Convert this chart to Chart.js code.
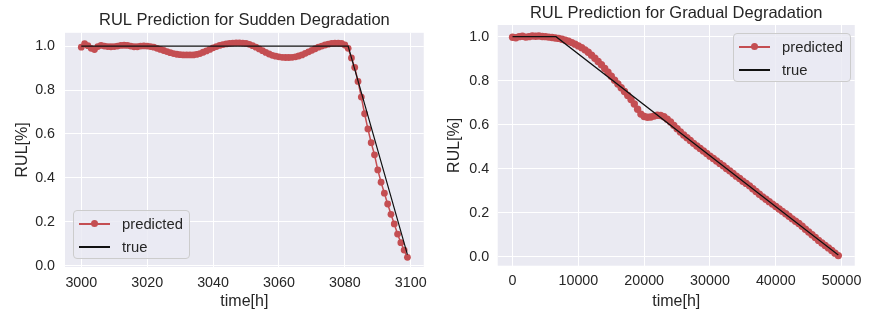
<!DOCTYPE html>
<html>
<head>
<meta charset="utf-8">
<script src="https://cdn.jsdelivr.net/npm/chart.js@4.4.1/dist/chart.umd.min.js"></script>
<style>
html,body{margin:0;padding:0;background:#fff;}
#wrap{position:relative;width:869px;height:314px;overflow:hidden;}
#wrap canvas{position:absolute;top:0;}
.legend{position:absolute;box-sizing:border-box;border:1px solid #CCCCCC;border-radius:4px;background:rgba(234,234,242,0.8);font-family:'Liberation Sans',Arial,sans-serif;font-size:14.8px;color:#262626;}
.legend .ln{position:absolute;height:1.5px;}
.legend .mk{position:absolute;width:7px;height:7px;border-radius:50%;}
.legend .tx{position:absolute;line-height:18px;white-space:nowrap;}
</style>
</head>
<body>
<div id="wrap">
  <canvas id="c1" width="434" height="314" style="left:0"></canvas>
  <canvas id="c2" width="435" height="314" style="left:434px"></canvas>
</div>
<script>
// ---------------- data ----------------
const suddenHours = [3000,3001,3002,3003,3004,3005,3006,3007,3008,3009,
  3010,3011,3012,3013,3014,3015,3016,3017,3018,3019,
  3020,3021,3022,3023,3024,3025,3026,3027,3028,3029,
  3030,3031,3032,3033,3034,3035,3036,3037,3038,3039,
  3040,3041,3042,3043,3044,3045,3046,3047,3048,3049,
  3050,3051,3052,3053,3054,3055,3056,3057,3058,3059,
  3060,3061,3062,3063,3064,3065,3066,3067,3068,3069,
  3070,3071,3072,3073,3074,3075,3076,3077,3078,3079,
  3080,3081,3082,3083,3084,3085,3086,3087,3088,3089,
  3090,3091,3092,3093,3094,3095,3096,3097,3098,3099];
const suddenPredicted = [0.995,1.011,1.002,0.990,0.984,0.998,1.003,1.000,0.998,0.997,
  0.998,1.000,1.003,1.004,1.003,1.000,0.997,0.997,1.000,1.001,
  1.000,0.998,0.995,0.990,0.985,0.980,0.975,0.970,0.966,0.963,
  0.961,0.960,0.960,0.960,0.960,0.962,0.966,0.972,0.978,0.985,
  0.992,0.998,1.003,1.007,1.010,1.012,1.014,1.015,1.015,1.014,
  1.012,1.008,1.002,0.995,0.987,0.979,0.971,0.964,0.958,0.954,
  0.951,0.949,0.948,0.948,0.949,0.951,0.955,0.960,0.967,0.974,
  0.981,0.988,0.995,1.000,1.005,1.009,1.012,1.013,1.013,1.012,
  1.005,0.990,0.946,0.903,0.839,0.768,0.692,0.623,0.560,0.505,
  0.436,0.380,0.330,0.281,0.234,0.190,0.144,0.105,0.071,0.038];
const suddenTrueHours = [3000, 3081, 3099];
const suddenTrueValues = [1.0, 1.0, 0.05];
const suddenXTicks = [3000, 3020, 3040, 3060, 3080, 3100];

const gradualHours = [0,500,1000,1500,2000,2500,3000,3500,4000,4500,
  5000,5500,6000,6500,7000,7500,8000,8500,9000,9500,
  10000,10500,11000,11500,12000,12500,13000,13500,14000,14500,
  15000,15500,16000,16500,17000,17500,18000,18500,19000,19500,
  20000,20500,21000,21500,22000,22500,23000,23500,24000,24500,
  25000,25500,26000,26500,27000,27500,28000,28500,29000,29500,
  30000,30500,31000,31500,32000,32500,33000,33500,34000,34500,
  35000,35500,36000,36500,37000,37500,38000,38500,39000,39500,
  40000,40500,41000,41500,42000,42500,43000,43500,44000,44500,
  45000,45500,46000,46500,47000,47500,48000,48500,49000,49500];
const gradualPredicted = [0.997,0.995,1.000,1.002,0.998,1.000,1.003,1.002,1.003,1.001,
  1.000,0.998,0.996,0.994,0.992,0.988,0.984,0.979,0.973,0.966,
  0.958,0.950,0.940,0.929,0.916,0.902,0.887,0.872,0.855,0.838,
  0.820,0.802,0.785,0.768,0.751,0.733,0.714,0.694,0.670,0.648,
  0.637,0.634,0.635,0.639,0.643,0.642,0.636,0.625,0.612,0.597,
  0.582,0.567,0.553,0.541,0.528,0.515,0.503,0.492,0.480,0.469,
  0.457,0.446,0.435,0.424,0.413,0.401,0.390,0.378,0.366,0.355,
  0.343,0.333,0.322,0.309,0.296,0.284,0.272,0.261,0.250,0.239,
  0.228,0.217,0.206,0.195,0.184,0.172,0.161,0.151,0.138,0.125,
  0.112,0.100,0.087,0.074,0.062,0.051,0.040,0.028,0.016,0.005];
const gradualTrueHours = [0, 6600, 49500];
const gradualTrueValues = [1.0, 1.0, 0.008];
const gradualXTicks = [0, 10000, 20000, 30000, 40000, 50000];

const rulTicks = [0.0, 0.2, 0.4, 0.6, 0.8, 1.0];
const legendLabels = ['predicted', 'true'];

// ---------------- style ----------------
const FONT = "'Liberation Sans', Arial, sans-serif";
const INK = '#262626';
const RED = '#C44E52';
const BLACK = '#111111';
const AXBG = '#EAEAF2';

const bgPlugin = {
  id: 'axbg',
  beforeDraw(chart) {
    const a = chart.chartArea, ctx = chart.ctx;
    ctx.save();
    ctx.fillStyle = AXBG;
    ctx.fillRect(a.left, a.top, a.right - a.left, a.bottom - a.top);
    ctx.restore();
  }
};

function pairs(xs, ys) { return xs.map((x, i) => ({x: x, y: ys[i]})); }

function build(id, c) {
  return new Chart(document.getElementById(id), {
    type: 'line',
    data: {
      datasets: [
        { label: legendLabels[0], data: pairs(c.hours, c.pred), borderColor: RED, backgroundColor: RED,
          borderWidth: 1.5, pointRadius: c.ptR, pointBorderWidth: 0, pointBackgroundColor: RED,
          tension: 0, order: 1, fill: false },
        { label: legendLabels[1], data: pairs(c.trueH, c.trueV), borderColor: BLACK, backgroundColor: BLACK,
          borderWidth: 1.2, pointRadius: 0, tension: 0, order: 0, fill: false }
      ]
    },
    options: {
      responsive: false, animation: false, devicePixelRatio: 1,
      events: [],
      layout: { padding: { left: 0, right: c.padRight, top: 0, bottom: 0 } },
      plugins: {
        legend: { display: false },
        tooltip: { enabled: false },
        title: { display: true, fullSize: false, align: 'center', text: c.title, color: INK,
          font: { family: FONT, size: 16.5, weight: 'normal', lineHeight: 1.2 },
          padding: { top: c.tTop, bottom: c.tBottom } }
      },
      scales: {
        x: {
          type: 'linear', min: c.xMin, max: c.xMax,
          afterBuildTicks: s => { s.ticks = c.xTicks.map(v => ({ value: v })); },
          afterFit: s => { s.height = c.xH; },
          ticks: { color: INK, font: { family: FONT, size: 14.3, lineHeight: 1.2 }, padding: 7,
            maxRotation: 0, autoSkip: false, callback: v => String(v) },
          grid: { color: '#FFFFFF', lineWidth: 1, drawTicks: false },
          border: { display: false },
          title: { display: true, text: 'time[h]', color: INK,
            font: { family: FONT, size: 16, lineHeight: 1.2 }, padding: { top: 0, bottom: 2.5 } }
        },
        y: {
          type: 'linear', min: c.yMin, max: c.yMax,
          afterBuildTicks: s => { s.ticks = rulTicks.map(v => ({ value: v })); },
          afterFit: s => { s.width = c.yW; },
          ticks: { color: INK, font: { family: FONT, size: 14.3, lineHeight: 1.2 }, padding: c.yPad,
            autoSkip: false, callback: v => Number(v).toFixed(1) },
          grid: { color: '#FFFFFF', lineWidth: 1, drawTicks: false },
          border: { display: false },
          title: { display: true, text: 'RUL[%]', color: INK,
            font: { family: FONT, size: 16, lineHeight: 1.2 }, padding: { top: c.yTitlePad, bottom: 0 } }
        }
      }
    },
    plugins: [bgPlugin]
  });
}

build('c1', {
  hours: suddenHours, pred: suddenPredicted, trueH: suddenTrueHours, trueV: suddenTrueValues,
  xTicks: suddenXTicks, title: 'RUL Prediction for Sudden Degradation',
  xMin: 2995.05, xMax: 3103.95, yMin: -0.006, yMax: 1.0606, ptR: 3.4,
  padRight: 8, tTop: 11, tBottom: 2, xH: 47, yW: 65, yPad: 10, yTitlePad: 12.5
});
build('c2', {
  hours: gradualHours, pred: gradualPredicted, trueH: gradualTrueHours, trueV: gradualTrueValues,
  xTicks: gradualXTicks, title: 'RUL Prediction for Gradual Degradation',
  xMin: -2260, xMax: 52000, yMin: -0.041, yMax: 1.053, ptR: 3.7,
  padRight: 10.7, tTop: 3.4, tBottom: 1.8, xH: 48.3, yW: 63.7, yPad: 8.5, yTitlePad: 11
});

// ---------------- legends (HTML text) ----------------
function legend(box) {
  const wrap = document.getElementById('wrap');
  const d = document.createElement('div');
  d.className = 'legend';
  d.style.left = box.left + 'px'; d.style.top = box.top + 'px';
  d.style.width = box.w + 'px'; d.style.height = box.h + 'px';
  const rows = [
    { y: 12, color: RED, marker: true, text: legendLabels[0] },
    { y: 35, color: BLACK, marker: false, text: legendLabels[1] }
  ];
  rows.forEach(r => {
    const ln = document.createElement('div');
    ln.className = 'ln';
    ln.style.left = '5px'; ln.style.width = '31px';
    ln.style.top = r.y + 'px';
    ln.style.background = r.color;
    d.appendChild(ln);
    if (r.marker) {
      const mk = document.createElement('div');
      mk.className = 'mk';
      mk.style.left = '17px';
      mk.style.top = (r.y - 2.75) + 'px';
      mk.style.background = r.color;
      d.appendChild(mk);
    }
    const tx = document.createElement('div');
    tx.className = 'tx';
    tx.style.left = '48px';
    tx.style.top = (r.y - 8.5) + 'px';
    tx.textContent = r.text;
    d.appendChild(tx);
  });
  wrap.appendChild(d);
}
legend({ left: 73, top: 210, w: 117, h: 49 });
legend({ left: 733, top: 33, w: 118, h: 49 });
</script>
</body>
</html>
